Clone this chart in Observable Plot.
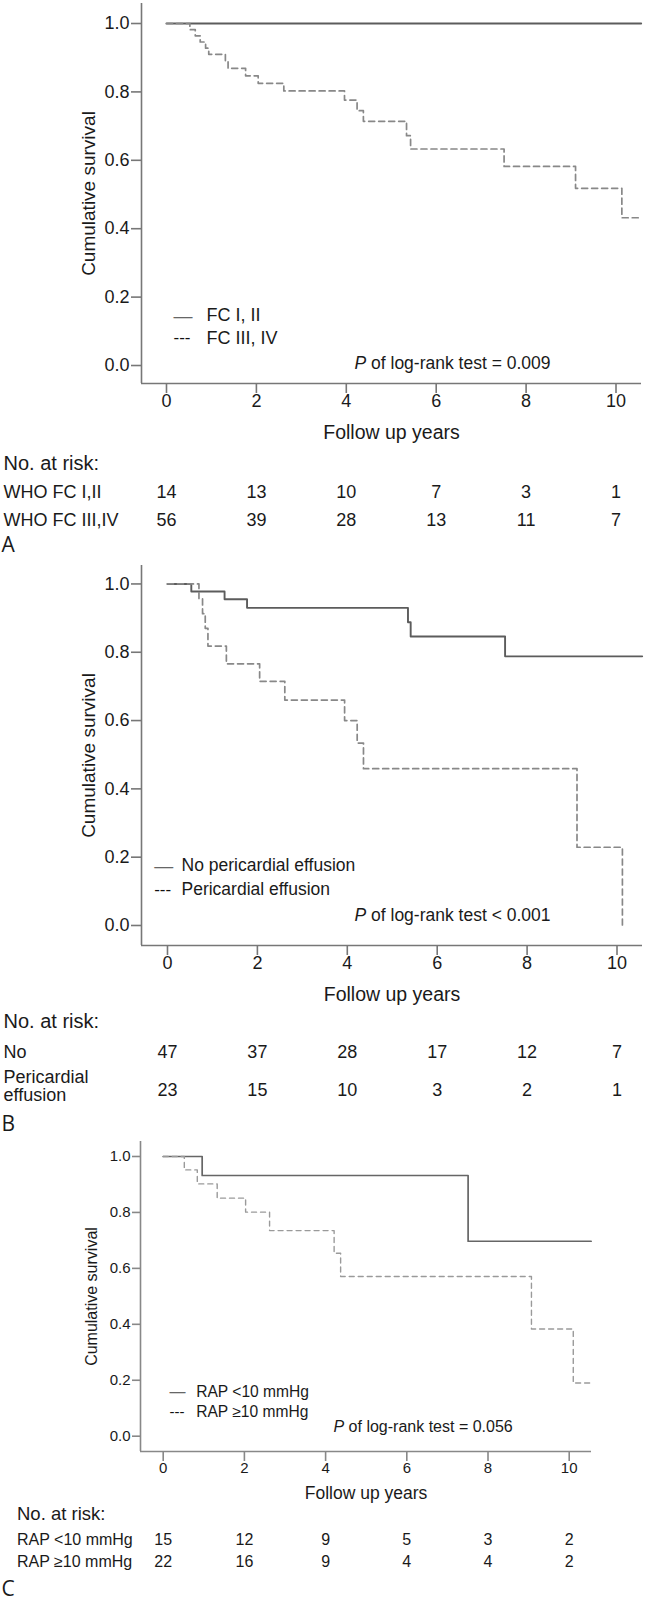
<!DOCTYPE html>
<html><head><meta charset="utf-8">
<script src="https://cdn.jsdelivr.net/npm/d3@7"></script>
<script src="https://cdn.jsdelivr.net/npm/@observablehq/plot@0.6"></script>
<style>body{margin:0;background:#fff;} svg{display:block;}</style>
</head><body><div id="chart"></div>
<script>
// ---------- shared ----------
const riskYears = [0, 2, 4, 6, 8, 10];
const xTicks = [0, 2, 4, 6, 8, 10];
const yTicks = [0, 0.2, 0.4, 0.6, 0.8, 1.0];
const xLabel = "Follow up years";
const yLabel = "Cumulative survival";
const riskTitle = "No. at risk:";

// ---------- Panel A ----------
const aLegend = ["FC I, II", "FC III, IV"];
const aTimeSolid = [0, 10.56];
const aSurvSolid = [1, 1];
const aTimeDash = [0, 0.52, 0.64, 0.75, 0.87, 0.94, 1.31, 1.37, 1.76, 2.04, 2.61, 3.96, 4.24, 4.38, 5.34, 5.43, 7.51, 9.10, 10.13, 10.56];
const aSurvDash = [1, 0.982, 0.964, 0.946, 0.928, 0.910, 0.889, 0.869, 0.847, 0.825, 0.803, 0.776, 0.745, 0.714, 0.672, 0.633, 0.582, 0.518, 0.432, 0.432];
const aRiskLabels = ["WHO FC I,II", "WHO FC III,IV"];
const aRisk1 = [14, 13, 10, 7, 3, 1];
const aRisk2 = [56, 39, 28, 13, 11, 7];
const aP = "of log-rank test = 0.009";

// ---------- Panel B ----------
const bLegend = ["No pericardial effusion", "Pericardial effusion"];
const bTimeSolid = [0, 0.53, 1.27, 1.77, 5.35, 5.41, 7.51, 10.56];
const bSurvSolid = [1, 0.978, 0.955, 0.930, 0.888, 0.846, 0.788, 0.788];
const bTimeDash = [0, 0.70, 0.78, 0.84, 0.90, 1.31, 2.05, 2.61, 3.94, 4.22, 4.36, 9.11, 10.12];
const bSurvDash = [1, 0.957, 0.913, 0.870, 0.818, 0.766, 0.715, 0.660, 0.600, 0.534, 0.459, 0.229, 0];
const bRiskLabels = ["No", "Pericardial\neffusion"];
const bRisk1 = [47, 37, 28, 17, 12, 7];
const bRisk2 = [23, 15, 10, 3, 2, 1];
const bP = "of log-rank test < 0.001";

// ---------- Panel C ----------
const cLegend = ["RAP <10 mmHg", "RAP \u226510 mmHg"];
const cTimeSolid = [0, 0.96, 7.51, 10.54];
const cSurvSolid = [1, 0.932, 0.697, 0.697];
const cTimeDash = [0, 0.52, 0.84, 1.33, 2.03, 2.62, 4.21, 4.37, 9.07, 10.10, 10.54];
const cSurvDash = [1, 0.952, 0.902, 0.851, 0.801, 0.735, 0.654, 0.571, 0.383, 0.19, 0.19];
const cRiskLabels = ["RAP <10 mmHg", "RAP \u226510 mmHg"];
const cRisk1 = [15, 12, 9, 5, 3, 2];
const cRisk2 = [22, 16, 9, 4, 4, 2];
const cP = "of log-rank test = 0.056";

const panelLetters = ["A", "B", "C"];

function kmRows(times, surv) { return times.map((t, i) => ({t, s: surv[i]})); }
function riskRows(counts) { return riskYears.map((yr, i) => ({yr, n: counts[i]})); }

const FONT = "'Liberation Sans', Arial, Helvetica, sans-serif";

function makePanel(o) {
  const L = o.margin.left;
  const txt = (s, opt) => Plot.text([s], {text: d => d, lineAnchor: "middle", ...opt});
  const BL = {frameAnchor: "bottom-left", textAnchor: "start", lineAnchor: "middle"};
  return Plot.plot({
    width: 646, height: o.height,
    marginLeft: o.margin.left, marginRight: o.margin.right,
    marginTop: o.margin.top, marginBottom: o.margin.bottom,
    style: {fontFamily: FONT, background: "#fff", color: "#1a1a1a", overflow: "visible"},
    x: {domain: o.xDomain},
    y: {domain: o.yDomain},
    marks: [
      Plot.ruleX([o.xDomain[0]], {stroke: o.axisColor, strokeWidth: 1.6}),
      Plot.ruleY([o.yDomain[0]], {stroke: o.axisColor, strokeWidth: 1.6}),
      Plot.axisY({ticks: yTicks, tickFormat: d3.format(".1f"), tickSize: o.yTickSize, tickPadding: 2,
        fontSize: o.tickFont, stroke: o.axisColor, strokeWidth: 1.6, label: null}),
      Plot.axisX({ticks: xTicks, tickFormat: d3.format("d"), tickSize: 10, tickPadding: 1,
        fontSize: o.tickFont, stroke: o.axisColor, strokeWidth: 1.6, label: null}),
      Plot.line(kmRows(o.tSolid, o.sSolid), {x: "t", y: "s", curve: "step-after",
        stroke: o.solidColor, strokeWidth: o.solidWidth}),
      Plot.line(kmRows(o.tDash, o.sDash), {x: "t", y: "s", curve: "step-after",
        stroke: o.dashColor, strokeWidth: o.dashWidth, strokeDasharray: o.dash}),
      // axis titles
      txt(yLabel, {frameAnchor: "left", textAnchor: "middle", rotate: -90, dx: o.yLabelDx, fontSize: o.yLabelFont}),
      txt(xLabel, {frameAnchor: "bottom", textAnchor: "middle", dy: o.xLabelDy, fontSize: o.xLabelFont}),
      // legend
      txt("\u2014", {...BL, dx: o.legMarkDx, dy: o.legDy[0], fontSize: o.legMarkFont, fill: "#666"}),
      txt("---", {...BL, dx: o.legMarkDx, dy: o.legDy[1], fontSize: o.legDashFont, fill: "#111"}),
      txt(o.legend[0], {...BL, dx: o.legTextDx, dy: o.legDy[0], fontSize: o.legFont}),
      txt(o.legend[1], {...BL, dx: o.legTextDx, dy: o.legDy[1], fontSize: o.legFont}),
      // p value
      txt("P", {...BL, dx: o.pDx, dy: o.pDy, fontSize: o.pFont, fontStyle: "italic"}),
      txt(o.pText, {...BL, dx: o.pDx + o.pFont * 0.667 + o.pFont * 0.278, dy: o.pDy, fontSize: o.pFont}),
      // risk table
      txt(riskTitle, {...BL, dx: -L + o.tableX, dy: o.riskTitleDy, fontSize: o.riskTitleFont}),
      txt(o.riskLabels[0], {...BL, dx: -L + o.tableX, dy: o.rowDy[0], fontSize: o.rowFont}),
      txt(o.riskLabels[1], {...BL, dx: -L + o.tableX, dy: o.rowLabelDy2 ?? o.rowDy[1], fontSize: o.rowFont, lineHeight: 1.02}),
      Plot.text(riskRows(o.risk1), {x: "yr", text: d => String(d.n), frameAnchor: "bottom", lineAnchor: "middle", dy: o.rowDy[0], fontSize: o.rowFont}),
      Plot.text(riskRows(o.risk2), {x: "yr", text: d => String(d.n), frameAnchor: "bottom", lineAnchor: "middle", dy: o.rowDy[1], fontSize: o.rowFont}),
      // panel letter
      txt(o.letter, {...BL, dx: -L + 1, dy: o.letterDy, fontSize: 21,
        fontFamily: "'Open Sans', 'Liberation Sans', sans-serif"})
    ]
  });
}

const root = document.getElementById("chart");

root.appendChild(makePanel({
  height: 556, margin: {left: 141, right: 5, top: 3, bottom: 173},
  xDomain: [-0.556, 10.567], yDomain: [-0.0526, 1.0585],
  axisColor: "#777", yTickSize: 10, tickFont: 18,
  tSolid: aTimeSolid, sSolid: aSurvSolid, tDash: aTimeDash, sDash: aSurvDash,
  solidColor: "#5c5c5c", solidWidth: 1.9, dashColor: "#888", dashWidth: 1.7, dash: "6,4",
  yLabelDx: -52.4, yLabelFont: 19, xLabelDy: 49, xLabelFont: 19.5,
  legend: aLegend, legDy: [-68, -45.7], legMarkDx: 32, legTextDx: 65, legMarkFont: 19, legDashFont: 17, legFont: 18,
  pText: aP, pDx: 213, pDy: -19.7, pFont: 17.5,
  riskLabels: aRiskLabels, risk1: aRisk1, risk2: aRisk2,
  tableX: 3, riskTitleDy: 80, riskTitleFont: 20, rowDy: [108.7, 137], rowFont: 18,
  letter: panelLetters[0], letterDy: 162
}));

root.appendChild(makePanel({
  height: 577, margin: {left: 141, right: 4, top: 9, bottom: 188},
  xDomain: [-0.578, 10.567], yDomain: [-0.0586, 1.054],
  axisColor: "#777", yTickSize: 10, tickFont: 18,
  tSolid: bTimeSolid, sSolid: bSurvSolid, tDash: bTimeDash, sDash: bSurvDash,
  solidColor: "#5c5c5c", solidWidth: 1.9, dashColor: "#888", dashWidth: 1.7, dash: "6,4",
  yLabelDx: -52.4, yLabelFont: 19, xLabelDy: 49.3, xLabelFont: 19.5,
  legend: bLegend, legDy: [-80, -55.7], legMarkDx: 12.7, legTextDx: 40, legMarkFont: 19, legDashFont: 17, legFont: 17.5,
  pText: bP, pDx: 213, pDy: -30, pFont: 17.5,
  riskLabels: bRiskLabels, risk1: bRisk1, risk2: bRisk2,
  tableX: 3, riskTitleDy: 75.7, riskTitleFont: 20, rowDy: [106.7, 144.3], rowLabelDy2: 140.9, rowFont: 18,
  letter: panelLetters[1], letterDy: 178.3
}));

root.appendChild(makePanel({
  height: 468, margin: {left: 140, right: 55, top: 8, bottom: 150},
  xDomain: [-0.559, 10.549], yDomain: [-0.0547, 1.0536],
  axisColor: "#888", yTickSize: 8, tickFont: 15,
  tSolid: cTimeSolid, sSolid: cSurvSolid, tDash: cTimeDash, sDash: cSurvDash,
  solidColor: "#666", solidWidth: 1.7, dashColor: "#9a9a9a", dashWidth: 1.4, dash: "5,4",
  yLabelDx: -48.5, yLabelFont: 16, xLabelDy: 41.7, xLabelFont: 17.5,
  legend: cLegend, legDy: [-59.3, -39.3], legMarkDx: 29, legTextDx: 55.7, legMarkFont: 16, legDashFont: 15, legFont: 15.6,
  pText: cP, pDx: 193, pDy: -24.3, pFont: 16,
  riskLabels: cRiskLabels, risk1: cRisk1, risk2: cRisk2,
  tableX: 16.5, riskTitleDy: 62.3, riskTitleFont: 18.5, rowDy: [88.3, 110.7], rowFont: 16,
  letter: panelLetters[2], letterDy: 137.3
}));
</script>
</body></html>
